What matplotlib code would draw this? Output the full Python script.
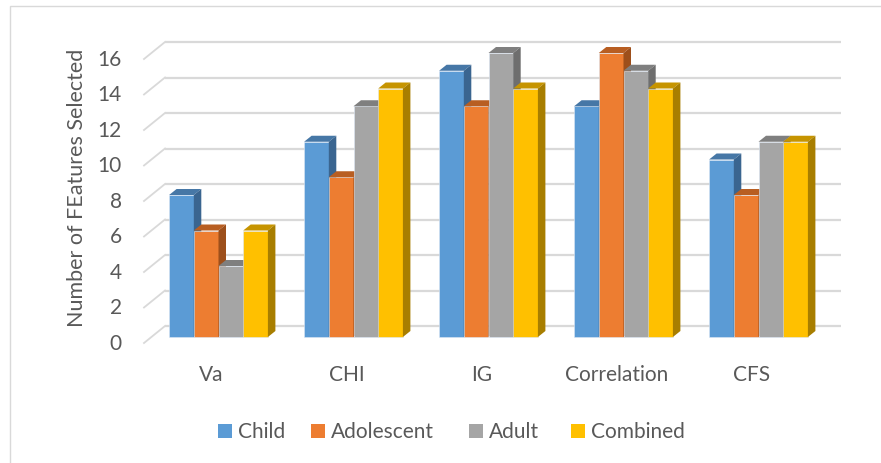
import matplotlib
matplotlib.use("Agg")
import matplotlib.pyplot as plt
from matplotlib.patches import Polygon, Rectangle
import numpy as np

categories = ["Va", "CHI", "IG", "Correlation", "CFS"]
series_names = ["Child", "Adolescent", "Adult", "Combined"]
child = [8, 11, 15, 13, 10]
adolescent = [6, 9, 13, 16, 8]
adult = [4, 13, 16, 15, 11]
combined = [6, 14, 14, 14, 11]
yticks = [0, 2, 4, 6, 8, 10, 12, 14, 16]

series = [child, adolescent, adult, combined]
front_cols = ["#5B9BD5", "#ED7D31", "#A5A5A5", "#FFC000"]
top_cols = ["#4677A6", "#B85E22", "#7F7F7F", "#C69400"]
side_cols = ["#3A6590", "#9D4F1B", "#6E6E6E", "#A87E00"]

plt.rcParams['font.family'] = ['Lato', 'DejaVu Sans']
W, H = 881, 464
fig = plt.figure(figsize=(W / 100, H / 100), dpi=100)

# pixel geometry of the plot area
px_l, px_r, px_t, px_b = 140, 845, 30, 350
ax = fig.add_axes([px_l / W, 1 - px_b / H, (px_r - px_l) / W, (px_b - px_t) / H])
ax.set_axis_off()
xpx_per = 135.0     # pixels per category
ypx_per = 17.75     # pixels per value unit
x0px, y0px = 218.5, 338.0
ax.set_xlim((px_l - x0px) / xpx_per, (px_r - x0px) / xpx_per)
ax.set_ylim((y0px - px_b) / ypx_per, (y0px - px_t) / ypx_per)

def dxp(p):
    return p / xpx_per

def dyp(p):
    return p / ypx_per

grid_c = "#D9D9D9"
# back wall gridlines and floor diagonals
for v in yticks:
    yb = v + dyp(11)
    yf = v - dyp(6)
    ax.plot([dxp(165 - x0px), dxp(841 - x0px)], [yb, yb], color=grid_c, lw=1.6, zorder=1,
            solid_capstyle='butt')
    ax.plot([dxp(144 - x0px), dxp(165 - x0px)], [yf, yb], color=grid_c, lw=1.3, zorder=1)

bw = 24.7 / xpx_per
ddx, ddy = dxp(7.5), dyp(6)
z = 2
xs = np.arange(len(categories))
for i in range(len(categories)):
    for j, (vals, fc, tc, sc) in enumerate(zip(series, front_cols, top_cols, side_cols)):
        left = xs[i] + (j - 2) * bw
        h = vals[i]
        ax.bar(left, h, width=bw, align='edge', color=fc, edgecolor='#DDE8F5', lw=0.4, zorder=z)
        ax.add_patch(Polygon([(left, h), (left + ddx, h + ddy), (left + bw + ddx, h + ddy), (left + bw, h)],
                             closed=True, facecolor=tc, edgecolor='none', zorder=z + 0.1))
        ax.add_patch(Polygon([(left + bw, 0), (left + bw, h), (left + bw + ddx, h + ddy), (left + bw + ddx, ddy)],
                             closed=True, facecolor=sc, edgecolor='none', zorder=z + 0.1))
        z += 1

txt_c = "#595959"
fs = 15
for v in yticks:
    ax.text(dxp(122 - x0px), v - dyp(6), str(v), ha='right', va='center', fontsize=fs, color=txt_c)
for i, c in enumerate(categories):
    ax.text(xs[i] - dxp(7), -dyp(375 - y0px), c, ha='center', va='center', fontsize=fs, color=txt_c)

fig.text(77 / W, 1 - 188 / H, "Number of FEatures Selected", rotation=90, ha='center', va='center',
         fontsize=15.5, color=txt_c)

# legend
sq_x = [218, 311, 469, 571]
for sx, name, col in zip(sq_x, series_names, front_cols):
    fig.patches.append(Rectangle((sx / W, 1 - 439 / H), 14 / W, 14 / H, transform=fig.transFigure,
                                 facecolor=col, edgecolor='none'))
    fig.text((sx + 20) / W, 1 - 432 / H, name, ha='left', va='center', fontsize=fs, color=txt_c)

# chart border
fig.patches.append(Rectangle((10 / W, -0.1), 1.2, 1 - 7 / H + 0.1, transform=fig.transFigure,
                             facecolor='none', edgecolor='#D9D9D9', lw=1))

fig.savefig("out.png", dpi=100)
